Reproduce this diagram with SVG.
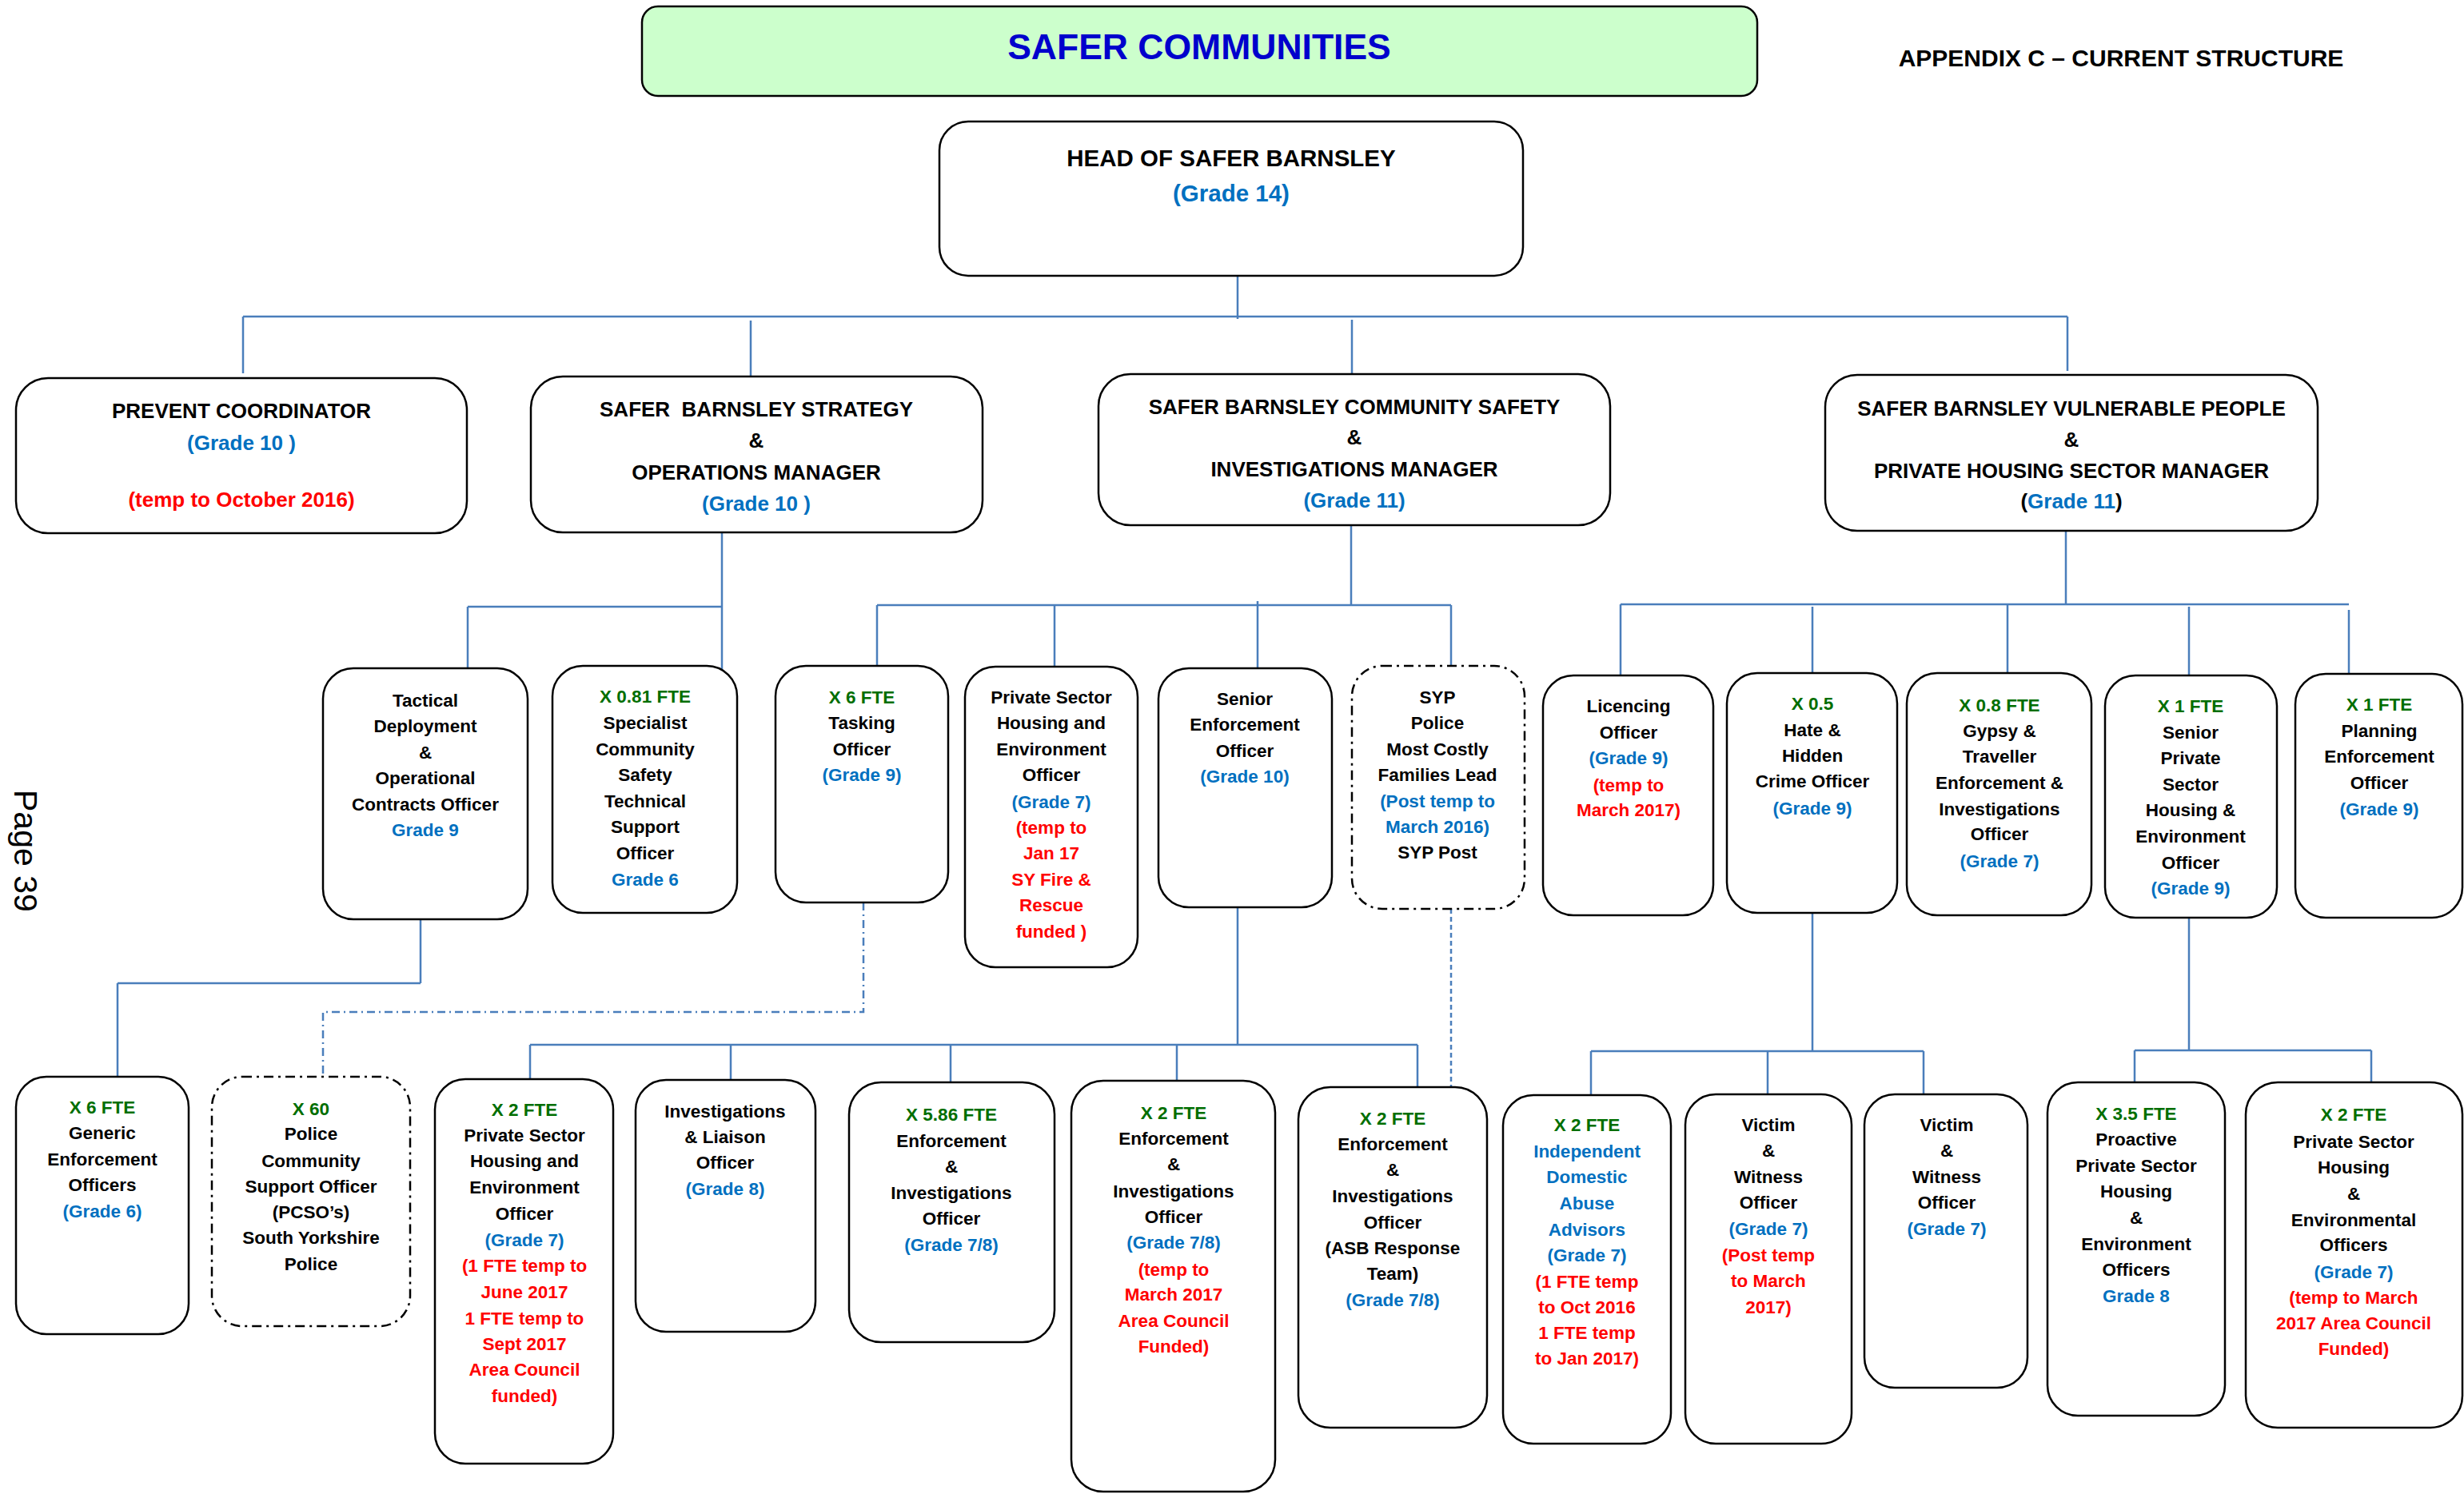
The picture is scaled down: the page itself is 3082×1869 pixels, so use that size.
<svg xmlns="http://www.w3.org/2000/svg" width="3082" height="1869" viewBox="0 0 3082 1869">
<style>
.bx{fill:#fff;stroke:#000;stroke-width:2.5}
.dd{fill:#fff;stroke:#000;stroke-width:2.5;stroke-dasharray:12 6 3 6}
.t{font-family:"Liberation Sans",Arial,sans-serif;font-weight:bold;font-size:22.5px;text-anchor:middle;fill:#000}
.m{font-size:26px}
.h{font-size:29.5px}
.b{fill:#0070C0}
.g{fill:#006E00}
.r{fill:#FF0000}
.c{stroke:#4A7EBB;stroke-width:2.5;fill:none}
.cdd{stroke-dasharray:10 5 2 5}
.cd{stroke-dasharray:6 4}
</style>
<rect width="3082" height="1869" fill="#fff"/>
<g id="connectors">
<path class="c" d="M304 396H2586M304 396V467M939 401V471M1548 345V399M1691 400V468M2586 396V464"/>
<path class="c" d="M903 666V838M585 759H903M585 759V836"/>
<path class="c" d="M1690 657V757M1097 757H1815M1097 757V833M1319 757V834M1573 752V836M1815 757V833"/>
<path class="c" d="M2584 664V756M2027 756H2938M2027 756V845M2267 759V842M2511 756V842M2738 759V845M2938 763V843"/>
<path class="c" d="M526 1150V1230M147 1230H526M147 1230V1347"/>
<path class="c cdd" d="M1080 1129V1266H404V1359"/>
<path class="c" d="M1548 1135V1307M663 1307H1773M663 1307V1350M914 1307V1351M1189 1307V1354M1472 1307V1352M1773 1307V1360"/>
<path class="c cd" d="M1815 1137V1369"/>
<path class="c" d="M2267 1142V1315M1990 1315H2406M1990 1315V1370M2211 1315V1369M2406 1315V1369"/>
<path class="c" d="M2738 1148V1314M2670 1314H2966M2670 1314V1354M2966 1314V1354"/>
</g>
<g id="title">
<rect x="803" y="8" width="1395" height="112" rx="20" fill="#CCFFCC" stroke="#000" stroke-width="2.5"/>
<text class="t" x="1500" y="74" style="font-size:44.5px;fill:#0000CC">SAFER COMMUNITIES</text>
</g>
<g id="appendix">
<text class="t" x="2653" y="83" style="font-size:30px">APPENDIX C – CURRENT STRUCTURE</text>
</g>
<g id="page-label">
<text transform="translate(18,988) rotate(90)" style="font-family:'Liberation Sans',Arial,sans-serif;font-size:41px;fill:#000">Page 39</text>
</g>
<g id="head">
<rect class="bx" x="1175" y="152" width="730" height="193" rx="36"/>
<text class="t h" x="1540" y="208">HEAD OF SAFER BARNSLEY</text>
<text class="t h b" x="1540" y="252">(Grade 14)</text>
</g>
<g id="prevent">
<rect class="bx" x="20" y="473" width="564" height="194" rx="40"/>
<text class="t m" x="302" y="523">PREVENT COORDINATOR</text>
<text class="t m b" x="302" y="563">(Grade 10 )</text>
<text class="t m r" x="302" y="634">(temp to October 2016)</text>
</g>
<g id="strategy-manager">
<rect class="bx" x="664" y="471" width="565" height="195" rx="40"/>
<text class="t m" x="946" y="521">SAFER&#160; BARNSLEY STRATEGY</text>
<text class="t m" x="946" y="560">&amp;</text>
<text class="t m" x="946" y="600">OPERATIONS MANAGER</text>
<text class="t m b" x="946" y="639">(Grade 10 )</text>
</g>
<g id="community-safety-manager">
<rect class="bx" x="1374" y="468" width="640" height="189" rx="40"/>
<text class="t m" x="1694" y="518">SAFER BARNSLEY COMMUNITY SAFETY</text>
<text class="t m" x="1694" y="556">&amp;</text>
<text class="t m" x="1694" y="596">INVESTIGATIONS MANAGER</text>
<text class="t m b" x="1694" y="635">(Grade 11)</text>
</g>
<g id="vulnerable-people-manager">
<rect class="bx" x="2283" y="469" width="616" height="195" rx="40"/>
<text class="t m" x="2591" y="520">SAFER BARNSLEY VULNERABLE PEOPLE</text>
<text class="t m" x="2591" y="559">&amp;</text>
<text class="t m" x="2591" y="598">PRIVATE HOUSING SECTOR MANAGER</text>
<text class="t m" x="2591" y="636">(<tspan class="b">Grade 11</tspan>)</text>
</g>
<g id="tactical">
<rect class="bx" x="404" y="836" width="256" height="314" rx="38"/>
<text class="t" x="532" y="884">Tactical</text>
<text class="t" x="532" y="916">Deployment</text>
<text class="t" x="532" y="949">&amp;</text>
<text class="t" x="532" y="981">Operational</text>
<text class="t" x="532" y="1014">Contracts Officer</text>
<text class="t b" x="532" y="1046">Grade 9</text>
</g>
<g id="specialist">
<rect class="bx" x="691" y="833" width="231" height="309" rx="38"/>
<text class="t g" x="807" y="879">X 0.81 FTE</text>
<text class="t" x="807" y="912">Specialist</text>
<text class="t" x="807" y="945">Community</text>
<text class="t" x="807" y="977">Safety</text>
<text class="t" x="807" y="1010">Technical</text>
<text class="t" x="807" y="1042">Support</text>
<text class="t" x="807" y="1075">Officer</text>
<text class="t b" x="807" y="1108">Grade 6</text>
</g>
<g id="tasking">
<rect class="bx" x="970" y="833" width="216" height="296" rx="38"/>
<text class="t g" x="1078" y="880">X 6 FTE</text>
<text class="t" x="1078" y="912">Tasking</text>
<text class="t" x="1078" y="945">Officer</text>
<text class="t b" x="1078" y="977">(Grade 9)</text>
</g>
<g id="pshe-officer">
<rect class="bx" x="1207" y="834" width="216" height="376" rx="38"/>
<text class="t" x="1315" y="880">Private Sector</text>
<text class="t" x="1315" y="912">Housing and</text>
<text class="t" x="1315" y="945">Environment</text>
<text class="t" x="1315" y="977">Officer</text>
<text class="t b" x="1315" y="1011">(Grade 7)</text>
<text class="t r" x="1315" y="1043">(temp to</text>
<text class="t r" x="1315" y="1075">Jan 17</text>
<text class="t r" x="1315" y="1108">SY Fire &amp;</text>
<text class="t r" x="1315" y="1140">Rescue</text>
<text class="t r" x="1315" y="1173">funded )</text>
</g>
<g id="senior-enforcement">
<rect class="bx" x="1449" y="836" width="217" height="299" rx="38"/>
<text class="t" x="1557" y="882">Senior</text>
<text class="t" x="1557" y="914">Enforcement</text>
<text class="t" x="1557" y="947">Officer</text>
<text class="t b" x="1557" y="979">(Grade 10)</text>
</g>
<g id="syp-police">
<rect class="dd" x="1691" y="833" width="216" height="304" rx="38"/>
<text class="t" x="1798" y="880">SYP</text>
<text class="t" x="1798" y="912">Police</text>
<text class="t" x="1798" y="945">Most Costly</text>
<text class="t" x="1798" y="977">Families Lead</text>
<text class="t b" x="1798" y="1010">(Post temp to</text>
<text class="t b" x="1798" y="1042">March 2016)</text>
<text class="t" x="1798" y="1074">SYP Post</text>
</g>
<g id="licencing">
<rect class="bx" x="1930" y="845" width="213" height="300" rx="38"/>
<text class="t" x="2037" y="891">Licencing</text>
<text class="t" x="2037" y="924">Officer</text>
<text class="t b" x="2037" y="956">(Grade 9)</text>
<text class="t r" x="2037" y="990">(temp to</text>
<text class="t r" x="2037" y="1021">March 2017)</text>
</g>
<g id="hate-crime">
<rect class="bx" x="2160" y="842" width="213" height="300" rx="38"/>
<text class="t g" x="2267" y="888">X 0.5</text>
<text class="t" x="2267" y="921">Hate &amp;</text>
<text class="t" x="2267" y="953">Hidden</text>
<text class="t" x="2267" y="985">Crime Officer</text>
<text class="t b" x="2267" y="1019">(Grade 9)</text>
</g>
<g id="gypsy-traveller">
<rect class="bx" x="2385" y="842" width="231" height="303" rx="38"/>
<text class="t g" x="2501" y="890">X 0.8 FTE</text>
<text class="t" x="2501" y="922">Gypsy &amp;</text>
<text class="t" x="2501" y="954">Traveller</text>
<text class="t" x="2501" y="987">Enforcement &amp;</text>
<text class="t" x="2501" y="1020">Investigations</text>
<text class="t" x="2501" y="1051">Officer</text>
<text class="t b" x="2501" y="1085">(Grade 7)</text>
</g>
<g id="senior-private-sector">
<rect class="bx" x="2633" y="845" width="215" height="303" rx="38"/>
<text class="t g" x="2740" y="891">X 1 FTE</text>
<text class="t" x="2740" y="924">Senior</text>
<text class="t" x="2740" y="956">Private</text>
<text class="t" x="2740" y="989">Sector</text>
<text class="t" x="2740" y="1021">Housing &amp;</text>
<text class="t" x="2740" y="1054">Environment</text>
<text class="t" x="2740" y="1087">Officer</text>
<text class="t b" x="2740" y="1119">(Grade 9)</text>
</g>
<g id="planning">
<rect class="bx" x="2871" y="843" width="209" height="305" rx="38"/>
<text class="t g" x="2976" y="889">X 1 FTE</text>
<text class="t" x="2976" y="922">Planning</text>
<text class="t" x="2976" y="954">Enforcement</text>
<text class="t" x="2976" y="987">Officer</text>
<text class="t b" x="2976" y="1020">(Grade 9)</text>
</g>
<g id="generic-enforcement">
<rect class="bx" x="20" y="1347" width="216" height="322" rx="38"/>
<text class="t g" x="128" y="1393">X 6 FTE</text>
<text class="t" x="128" y="1425">Generic</text>
<text class="t" x="128" y="1458">Enforcement</text>
<text class="t" x="128" y="1490">Officers</text>
<text class="t b" x="128" y="1523">(Grade 6)</text>
</g>
<g id="pcso">
<rect class="dd" x="265" y="1347" width="248" height="312" rx="38"/>
<text class="t g" x="389" y="1395">X 60</text>
<text class="t" x="389" y="1426">Police</text>
<text class="t" x="389" y="1460">Community</text>
<text class="t" x="389" y="1492">Support Officer</text>
<text class="t" x="389" y="1524">(PCSO’s)</text>
<text class="t" x="389" y="1556">South Yorkshire</text>
<text class="t" x="389" y="1589">Police</text>
</g>
<g id="pshe-officers-x2">
<rect class="bx" x="544" y="1350" width="223" height="481" rx="38"/>
<text class="t g" x="656" y="1396">X 2 FTE</text>
<text class="t" x="656" y="1428">Private Sector</text>
<text class="t" x="656" y="1460">Housing and</text>
<text class="t" x="656" y="1493">Environment</text>
<text class="t" x="656" y="1526">Officer</text>
<text class="t b" x="656" y="1559">(Grade 7)</text>
<text class="t r" x="656" y="1591">(1 FTE temp to</text>
<text class="t r" x="656" y="1624">June 2017</text>
<text class="t r" x="656" y="1657">1 FTE temp to</text>
<text class="t r" x="656" y="1689">Sept 2017</text>
<text class="t r" x="656" y="1721">Area Council</text>
<text class="t r" x="656" y="1754">funded)</text>
</g>
<g id="investigations-liaison">
<rect class="bx" x="795" y="1351" width="225" height="315" rx="38"/>
<text class="t" x="907" y="1398">Investigations</text>
<text class="t" x="907" y="1430">&amp; Liaison</text>
<text class="t" x="907" y="1462">Officer</text>
<text class="t b" x="907" y="1495">(Grade 8)</text>
</g>
<g id="eio-586">
<rect class="bx" x="1062" y="1354" width="257" height="325" rx="40"/>
<text class="t g" x="1190" y="1402">X 5.86 FTE</text>
<text class="t" x="1190" y="1435">Enforcement</text>
<text class="t" x="1190" y="1467">&amp;</text>
<text class="t" x="1190" y="1500">Investigations</text>
<text class="t" x="1190" y="1532">Officer</text>
<text class="t b" x="1190" y="1565">(Grade 7/8)</text>
</g>
<g id="eio-2-temp">
<rect class="bx" x="1340" y="1352" width="255" height="514" rx="40"/>
<text class="t g" x="1468" y="1400">X 2 FTE</text>
<text class="t" x="1468" y="1432">Enforcement</text>
<text class="t" x="1468" y="1464">&amp;</text>
<text class="t" x="1468" y="1498">Investigations</text>
<text class="t" x="1468" y="1530">Officer</text>
<text class="t b" x="1468" y="1562">(Grade 7/8)</text>
<text class="t r" x="1468" y="1596">(temp to</text>
<text class="t r" x="1468" y="1627">March 2017</text>
<text class="t r" x="1468" y="1660">Area Council</text>
<text class="t r" x="1468" y="1692">Funded)</text>
</g>
<g id="eio-asb">
<rect class="bx" x="1624" y="1360" width="236" height="426" rx="40"/>
<text class="t g" x="1742" y="1407">X 2 FTE</text>
<text class="t" x="1742" y="1439">Enforcement</text>
<text class="t" x="1742" y="1471">&amp;</text>
<text class="t" x="1742" y="1504">Investigations</text>
<text class="t" x="1742" y="1537">Officer</text>
<text class="t" x="1742" y="1569">(ASB Response</text>
<text class="t" x="1742" y="1601">Team)</text>
<text class="t b" x="1742" y="1634">(Grade 7/8)</text>
</g>
<g id="idva">
<rect class="bx" x="1880" y="1370" width="210" height="436" rx="38"/>
<text class="t g" x="1985" y="1415">X 2 FTE</text>
<text class="t b" x="1985" y="1448">Independent</text>
<text class="t b" x="1985" y="1480">Domestic</text>
<text class="t b" x="1985" y="1513">Abuse</text>
<text class="t b" x="1985" y="1546">Advisors</text>
<text class="t b" x="1985" y="1578">(Grade 7)</text>
<text class="t r" x="1985" y="1611">(1 FTE temp</text>
<text class="t r" x="1985" y="1643">to Oct 2016</text>
<text class="t r" x="1985" y="1675">1 FTE temp</text>
<text class="t r" x="1985" y="1707">to Jan 2017)</text>
</g>
<g id="victim-witness-1">
<rect class="bx" x="2108" y="1369" width="208" height="437" rx="38"/>
<text class="t" x="2212" y="1415">Victim</text>
<text class="t" x="2212" y="1447">&amp;</text>
<text class="t" x="2212" y="1480">Witness</text>
<text class="t" x="2212" y="1512">Officer</text>
<text class="t b" x="2212" y="1545">(Grade 7)</text>
<text class="t r" x="2212" y="1578">(Post temp</text>
<text class="t r" x="2212" y="1610">to March</text>
<text class="t r" x="2212" y="1643">2017)</text>
</g>
<g id="victim-witness-2">
<rect class="bx" x="2332" y="1369" width="204" height="367" rx="38"/>
<text class="t" x="2435" y="1415">Victim</text>
<text class="t" x="2435" y="1447">&amp;</text>
<text class="t" x="2435" y="1480">Witness</text>
<text class="t" x="2435" y="1512">Officer</text>
<text class="t b" x="2435" y="1545">(Grade 7)</text>
</g>
<g id="proactive-psh">
<rect class="bx" x="2561" y="1354" width="222" height="417" rx="38"/>
<text class="t g" x="2672" y="1401">X 3.5 FTE</text>
<text class="t" x="2672" y="1433">Proactive</text>
<text class="t" x="2672" y="1466">Private Sector</text>
<text class="t" x="2672" y="1498">Housing</text>
<text class="t" x="2672" y="1531">&amp;</text>
<text class="t" x="2672" y="1564">Environment</text>
<text class="t" x="2672" y="1596">Officers</text>
<text class="t b" x="2672" y="1629">Grade 8</text>
</g>
<g id="psh-environmental">
<rect class="bx" x="2809" y="1354" width="271" height="432" rx="40"/>
<text class="t g" x="2944" y="1402">X 2 FTE</text>
<text class="t" x="2944" y="1436">Private Sector</text>
<text class="t" x="2944" y="1468">Housing</text>
<text class="t" x="2944" y="1501">&amp;</text>
<text class="t" x="2944" y="1534">Environmental</text>
<text class="t" x="2944" y="1565">Officers</text>
<text class="t b" x="2944" y="1599">(Grade 7)</text>
<text class="t r" x="2944" y="1631">(temp to March</text>
<text class="t r" x="2944" y="1663">2017 Area Council</text>
<text class="t r" x="2944" y="1695">Funded)</text>
</g>
</svg>
